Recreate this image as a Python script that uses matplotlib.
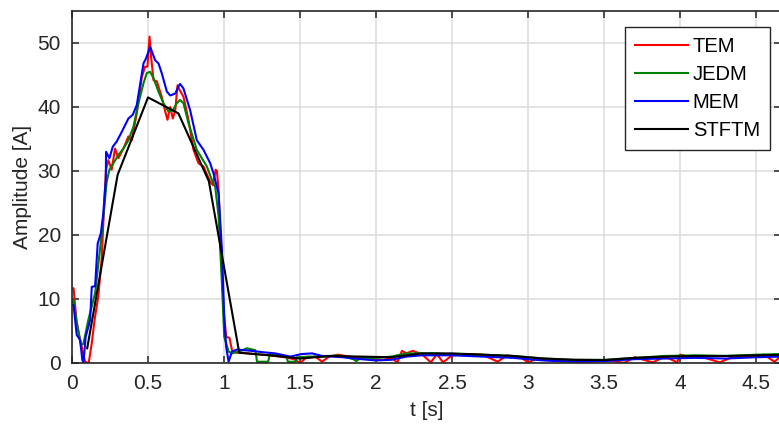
import matplotlib
matplotlib.use("Agg")
import matplotlib.pyplot as plt

plt.rcParams['font.family'] = ['Liberation Sans', 'DejaVu Sans']

# ---- data ----
tem_t = [0.0, 0.01, 0.03, 0.05, 0.064, 0.086, 0.11, 0.13, 0.15, 0.173, 0.196, 0.21, 0.224, 0.239,
         0.261, 0.283, 0.305, 0.338, 0.371, 0.393, 0.426, 0.459, 0.481, 0.496, 0.51, 0.52, 0.536,
         0.558, 0.59, 0.613, 0.628, 0.646, 0.663, 0.679, 0.694, 0.707, 0.733, 0.766, 0.799, 0.832,
         0.865, 0.909, 0.927, 0.945, 0.953, 0.964, 0.98, 0.997, 1.014, 1.036, 1.052, 1.08, 1.12,
         1.2, 1.3, 1.4, 1.46, 1.5, 1.54, 1.6, 1.645, 1.69, 1.75, 1.85, 1.95, 2.05, 2.1, 2.14, 2.17,
         2.2, 2.24, 2.3, 2.36, 2.4, 2.44, 2.5, 2.6, 2.7, 2.8, 2.86, 2.95, 3.0, 3.05, 3.2, 3.4,
         3.55, 3.63, 3.7, 3.82, 3.9, 3.98, 4.0, 4.05, 4.15, 4.26, 4.35, 4.5, 4.55, 4.62, 4.66]
tem_v = [11.5, 11.7, 6.5, 4.0, 2.5, 0.2, 0.0, 3.1, 7.0, 10.4, 16.6, 24.0, 30.2, 31.7,
         30.2, 33.5, 32.0, 33.5, 35.4, 34.8, 39.0, 44.7, 46.3, 46.3, 51.0, 47.9, 44.2,
         44.0, 41.6, 39.3, 38.0, 40.0, 38.2, 39.5, 43.4, 42.7, 41.6, 38.0, 33.3, 31.2,
         30.7, 28.3, 27.8, 30.2, 30.0, 27.0, 17.7, 8.3, 4.1, 3.9, 2.0, 1.6, 1.6,
         1.4, 1.2, 0.9, 0.6, 0.0, 0.8, 1.0, 0.2, 1.0, 1.3, 0.9, 0.6, 0.5, 0.8, 0.1, 1.9,
         1.5, 1.9, 1.4, 0.1, 1.4, 0.1, 1.2, 1.4, 1.3, 0.2, 1.2, 0.9, 0.1, 0.6, 0.3, 0.2,
         0.4, 0.0, 0.9, 0.1, 1.0, 0.1, 1.3, 1.0, 0.9, 0.1, 1.0, 1.1, 1.3, 0.2, 1.0]

jedm_t = [0.0, 0.01, 0.03, 0.059, 0.075, 0.107, 0.152, 0.196, 0.228, 0.246, 0.272, 0.305, 0.338,
          0.371, 0.404, 0.437, 0.47, 0.492, 0.514, 0.536, 0.569, 0.601, 0.634, 0.663, 0.69,
          0.711, 0.733, 0.766, 0.821, 0.887, 0.92, 0.942, 0.964, 0.986, 1.001, 1.03, 1.052,
          1.1, 1.15, 1.206, 1.217, 1.29, 1.30, 1.36, 1.41, 1.42, 1.47, 1.48, 1.55, 1.65, 1.75,
          1.85, 1.87, 1.9, 2.0, 2.1, 2.2, 2.3, 2.4, 2.5, 2.7, 2.9, 3.1, 3.3, 3.5, 3.7, 3.9,
          4.1, 4.3, 4.5, 4.66]
jedm_v = [9.5, 9.9, 6.5, 2.8, 3.0, 6.7, 10.9, 20.3, 28.3, 30.2, 31.2, 32.5, 33.5,
          34.8, 36.9, 40.6, 43.7, 45.3, 45.5, 44.5, 42.4, 40.6, 39.3, 39.5, 40.6,
          41.1, 40.6, 37.5, 33.3, 30.7, 28.6, 27.5, 22.9, 12.5, 4.1, 1.8, 1.5,
          1.8, 2.3, 2.0, 0.2, 0.2, 1.25, 1.3, 1.0, 0.2, 0.2, 0.9, 1.0, 1.0, 1.2,
          0.6, 0.3, 0.8, 0.8, 1.0, 1.5, 1.5, 1.5, 1.3, 1.3, 1.1, 0.7, 0.5, 0.5, 0.8, 1.1,
          1.2, 1.1, 1.3, 1.4]

mem_t = [0.0, 0.01, 0.031, 0.053, 0.068, 0.075, 0.09, 0.119, 0.13, 0.152, 0.169, 0.19, 0.206,
         0.222, 0.224, 0.246, 0.268, 0.294, 0.327, 0.371, 0.40, 0.426, 0.47, 0.487, 0.514,
         0.547, 0.569, 0.59, 0.624, 0.646, 0.679, 0.70, 0.711, 0.733, 0.777, 0.821, 0.865,
         0.909, 0.931, 0.953, 0.964, 0.986, 1.001, 1.014, 1.03, 1.052, 1.085, 1.18, 1.25,
         1.337, 1.436, 1.51, 1.58, 1.645, 1.78, 1.9, 2.0, 2.1, 2.2, 2.3, 2.5, 2.7, 2.9, 3.1,
         3.3, 3.5, 3.7, 3.9, 4.1, 4.3, 4.5, 4.66]
mem_v = [9.0, 9.1, 4.4, 3.6, 0.5, 0.0, 4.1, 6.7, 11.9, 12.0, 18.7, 20.3, 23.4,
         28.6, 33.0, 32.0, 33.8, 34.6, 36.1, 38.2, 38.8, 40.3, 46.8, 47.6, 49.4,
         47.3, 46.8, 45.3, 42.4, 41.8, 42.1, 43.2, 43.6, 42.9, 39.5, 34.8, 33.3,
         31.2, 29.6, 27.5, 26.5, 17.7, 7.2, 2.5, 0.2, 1.8, 2.1, 1.9, 1.7,
         1.5, 1.0, 1.4, 1.5, 1.1, 0.9, 0.6, 0.4, 0.5, 1.0, 1.2, 1.2, 1.0, 0.8, 0.4,
         0.2, 0.3, 0.6, 0.7, 0.8, 0.7, 0.9, 1.0]

stftm_t = [0.1, 0.3, 0.5, 0.7, 0.9, 1.1, 1.3, 1.5, 1.7, 1.9, 2.1, 2.3, 2.5, 2.7, 2.9, 3.1,
           3.3, 3.5, 3.7, 3.9, 4.1, 4.3, 4.5, 4.7]
stftm_v = [2.3, 29.4, 41.5, 39.0, 28.4, 1.6, 1.2, 0.7, 1.1, 1.0, 0.9, 1.5, 1.5, 1.3, 1.1, 0.7,
           0.5, 0.45, 0.8, 1.0, 1.1, 1.1, 1.2, 1.3]

xticks = [0, 0.5, 1, 1.5, 2, 2.5, 3, 3.5, 4, 4.5]
xticklabels = ['0', '0.5', '1', '1.5', '2', '2.5', '3', '3.5', '4', '4.5']
yticks = [0, 10, 20, 30, 40, 50]

# ---- figure ----
fig = plt.figure(figsize=(7.79, 4.32), dpi=100)
ax = fig.add_axes([72/779, 69/432, 1 - 72/779 + 0.002, (363 - 11)/432])

lw = 1.5
ax.plot(tem_t, tem_v, color='#ff0000', lw=lw, label='TEM')
ax.plot(jedm_t, jedm_v, color='#008000', lw=lw, label='JEDM')
ax.plot(mem_t, mem_v, color='#0000ff', lw=lw, label='MEM')
ax.plot(stftm_t, stftm_v, color='#000000', lw=lw, label='STFTM')

ax.set_xlim(0, 4.66)
ax.set_ylim(0, 55)
ax.set_xticks(xticks)
ax.set_xticklabels(xticklabels)
ax.set_yticks(yticks)
ax.grid(True, color='#dcdcdc', lw=1.1)
ax.set_axisbelow(True)
ax.tick_params(direction='in', length=5, width=1.1, colors='#262626', labelsize=15,
               top=True, right=True, pad=8)
for sp in ax.spines.values():
    sp.set_color('#262626')
    sp.set_linewidth(1.2)

ax.set_xlabel('t [s]', fontsize=15, color='#262626', labelpad=6)
ax.set_ylabel('Amplitude [A]', fontsize=15, color='#262626', labelpad=4)

leg = ax.legend(loc='upper right', bbox_to_anchor=(770/779, 1 - 27/432),
                bbox_transform=fig.transFigure, fontsize=14.5, handlelength=2.6,
                handletextpad=0.25, labelspacing=0.45, borderpad=0.5, borderaxespad=0,
                fancybox=False, framealpha=1, edgecolor='#262626')
leg.get_frame().set_linewidth(1.0)

fig.savefig('out.png', dpi=100)
